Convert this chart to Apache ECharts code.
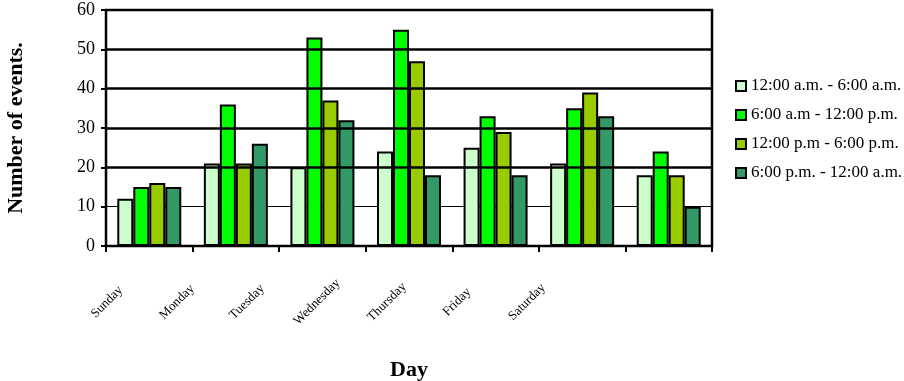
<!DOCTYPE html>
<html>
<head>
<meta charset="utf-8">
<script src="https://cdn.jsdelivr.net/npm/echarts@6/dist/echarts.min.js"></script>
<style>html,body{margin:0;padding:0;background:#fff}#c{width:904px;height:381px}</style>
</head>
<body>
<div id="c"></div>
<script>
var days = ['Sunday','Monday','Tuesday','Wednesday','Thursday','Friday','Saturday'];
var seriesNames = ['12:00 a.m. - 6:00 a.m.','6:00 a.m - 12:00 p.m.','12:00 p.m - 6:00 p.m.','6:00 p.m. - 12:00 a.m.'];
var night = [12, 21, 20, 24, 25, 21, 18];
var morning = [15, 36, 53, 55, 33, 35, 24];
var afternoon = [16, 21, 37, 47, 29, 39, 18];
var evening = [15, 26, 32, 18, 18, 33, 10];
var yTicks = [0, 10, 20, 30, 40, 50, 60];
var thickGrid = [20, 30, 40, 50];
var colors = ['#CCFFCC','#00FF00','#99CC00','#339966'];
var values = [night, morning, afternoon, evening];
var FONT = '"Liberation Serif", "Times New Roman", serif';

var chart = echarts.init(document.getElementById('c'), null, {renderer:'canvas'});
var series = values.map(function(v, i){
  var s = {
    name: seriesNames[i], type:'bar', data: v, xAxisIndex:0, yAxisIndex:0,
    barWidth: 16, barGap: '0%',
    itemStyle: {color: colors[i], borderColor:'#000', borderWidth:2},
    emphasis: {disabled:true}, animation:false, z: 3
  };
  if (i === 0) {
    s.markLine = {
      silent:true, symbol:['none','none'], label:{show:false}, animation:false,
      lineStyle:{color:'#000', width:2.5, type:'solid'},
      data: thickGrid.map(function(g){ return {yAxis:g}; })
    };
  }
  return s;
});

chart.setOption({
  animation:false,
  backgroundColor:'#fff',
  textStyle:{fontFamily:FONT, color:'#000'},
  grid:[
    {left:106, right:192, top:10, bottom:135, show:true, borderColor:'#000', borderWidth:2.5, backgroundColor:'transparent', containLabel:false, outerBoundsMode:'none'},
    {left:72, right:342, top:10, bottom:135, show:false, containLabel:false, outerBoundsMode:'none'}
  ],
  legend:{
    orient:'vertical', left:735, top:76, padding:0, itemWidth:10, itemHeight:10, itemGap:9,
    icon:'rect',
    data: seriesNames,
    textStyle:{fontFamily:FONT, fontSize:17, color:'#000', lineHeight:20},
    selectedMode:false
  },
  xAxis:[
    {type:'category', gridIndex:0, data:days,
     axisLine:{show:true, lineStyle:{color:'#000', width:2}},
     axisTick:{show:true, interval:0, length:6, lineStyle:{color:'#000', width:2}},
     axisLabel:{show:false},
     name:'Day', nameLocation:'middle', nameGap:113,
     nameTextStyle:{fontFamily:FONT, fontSize:22, fontWeight:'bold', color:'#000'}},
    {type:'category', gridIndex:1, data:days,
     axisLine:{show:false}, axisTick:{show:false},
     axisLabel:{show:true, interval:0, rotate:45, align:'center', verticalAlign:'middle', margin:56,
       fontFamily:FONT, fontSize:13, color:'#000'}}
  ],
  yAxis:[
    {type:'value', gridIndex:0, min:yTicks[0], max:yTicks[yTicks.length-1], interval:10,
     axisLine:{show:true, lineStyle:{color:'#000', width:2}},
     axisTick:{show:true, length:5, lineStyle:{color:'#000', width:2}},
     axisLabel:{fontFamily:FONT, fontSize:18, color:'#000', margin:11},
     splitLine:{show:true, lineStyle:{color:'#000', width:1.2}},
     name:'Number of events.', nameLocation:'middle', nameRotate:90, nameGap:79,
     nameTextStyle:{fontFamily:FONT, fontSize:22, fontWeight:'bold', color:'#000'}},
    {type:'value', gridIndex:1, show:false, min:0, max:60}
  ],
  series: series
});
</script>
</body>
</html>
